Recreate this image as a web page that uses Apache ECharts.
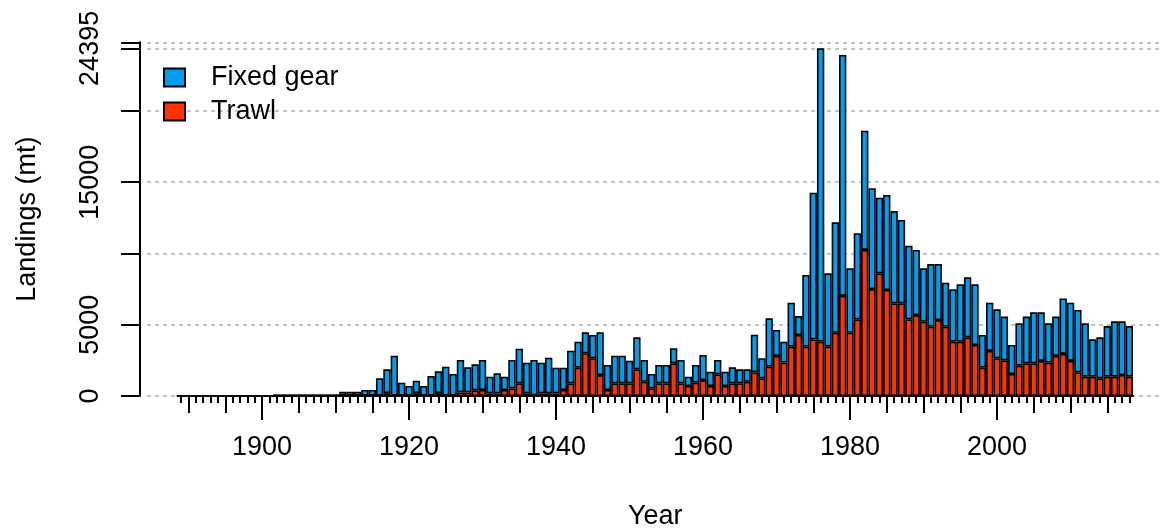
<!DOCTYPE html>
<html>
<head>
<meta charset="utf-8">
<script src="https://cdn.jsdelivr.net/npm/echarts@6/dist/echarts.min.js"></script>
<style>
  html, body { margin: 0; padding: 0; background: #fff; }
  #chartLandings { width: 1164px; height: 531px; }
</style>
</head>
<body>
<div id="chartLandings"></div>
<script>
  /** Data */
  var years = [];
  for (var y = 1889; y <= 2018; y++) { years.push(String(y)); }

  var trawl = [
    0, 0, 0, 0, 0, 0, 0, 0, 0, 0, 0, 0, 0,
    0, 0, 0, 0, 0, 0, 0, 0, 0,
    20, 20, 20, 20, 20, 30, 200, 30, 30, 30,
    200, 30, 30, 200, 30, 30, 250, 250, 400, 420,
    190, 190, 420, 540, 890, 190, 50, 190, 190, 190,
    420, 890, 1990, 3000, 2650, 1470, 420, 890, 890, 890,
    1870, 1000, 540, 890, 890, 2290, 890, 700, 935, 1120,
    700, 1520, 700, 890, 890, 1000, 1670, 1240, 2060, 2810,
    2340, 3460, 4280, 3460, 3980, 3810, 3460, 4440, 7020, 4440,
    5380, 10250, 7500, 8610, 7440, 6500, 6500, 5380, 5680, 5210,
    4860, 5330, 4860, 3810, 3810, 4120, 3580, 1990, 3160, 2650,
    2500, 1545, 2130, 2290, 2290, 2460, 2340, 2810, 2950, 2460,
    1660, 1355, 1355, 1240, 1355, 1355, 1475, 1355
  ];

  var fixedGear = [
    0, 0, 0, 0, 0, 0, 0, 0, 0, 0, 0, 0, 0,
    120, 120, 120, 120, 120, 120, 120, 120, 120,
    280, 280, 280, 400, 400, 1210, 1670, 2800, 905, 670,
    875, 670, 1370, 1530, 2030, 1515, 2280, 1760, 1820, 2110,
    1165, 1400, 935, 1990, 2430, 2150, 2480, 2150, 2500, 1800,
    1570, 2290, 1820, 1470, 1630, 3000, 1760, 1940, 1940, 1590,
    2250, 1530, 1005, 1290, 1290, 1060, 1640, 655, 1245, 1760,
    1005, 1010, 1005, 1120, 980, 870, 2630, 1410, 3390, 1820,
    1470, 3090, 1330, 5030, 10290, 20585, 5150, 7750, 16910, 4520,
    6040, 8370, 7080, 5310, 6670, 6480, 5850, 5170, 4570, 3750,
    4400, 3930, 3090, 3680, 4030, 4210, 4260, 2290, 3390, 3430,
    3070, 2035, 2970, 3280, 3580, 3410, 2760, 2760, 3900, 4090,
    4380, 3745, 2625, 2880, 3555, 3885, 3765, 3555
  ];

  var yMax = 24820;
  var yTop = 24395;
  var yLabels = ['0', '5000', '15000'];

  /** Chart */
  var font = "'Liberation Sans', Arial, sans-serif";
  var ink = '#000';
  var gridLine = { show: true, lineStyle: { color: '#c4c4c4', width: 2, type: [4, 4] } };

  function tickAxis(every, len, showLabel) {
    return {
      type: 'category',
      gridIndex: 0,
      position: 'bottom',
      data: years,
      boundaryGap: true,
      axisLine: { show: every === 1, lineStyle: { color: ink, width: 2 } },
      axisTick: {
        show: true,
        alignWithLabel: true,
        length: len,
        lineStyle: { color: ink, width: 2 },
        interval: function(i, v) { return Number(v) % every === 0; }
      },
      axisLabel: {
        show: showLabel,
        interval: function(i, v) { return Number(v) % 20 === 0; },
        margin: 38,
        color: ink,
        fontSize: 27,
        fontFamily: font
      },
      splitLine: { show: false }
    };
  }

  var option = {
    animation: false,
    backgroundColor: '#fff',
    textStyle: { fontFamily: font },
    grid: [
      { left: 177.5, right: 31, top: 42.3, bottom: 135, containLabel: false, outerBoundsMode: 'none' },
      { left: 147, right: 4, top: 42.3, bottom: 135, containLabel: false, outerBoundsMode: 'none' }
    ],
    legend: {
      orient: 'vertical',
      left: 158,
      top: 59,
      icon: 'rect',
      itemWidth: 21,
      itemHeight: 18,
      itemGap: 7,
      data: ['Fixed gear', 'Trawl'],
      textStyle: { color: ink, fontSize: 27, fontFamily: font, padding: [2, 0, 0, 21] }
    },
    xAxis: [
      tickAxis(1, 7, false),
      tickAxis(5, 17, false),
      (function() {
        var a = tickAxis(20, 24, true);
        a.name = 'Year';
        a.nameLocation = 'middle';
        a.nameGap = 107;
        a.nameTextStyle = { color: ink, fontSize: 27, fontFamily: font };
        return a;
      })(),
      { type: 'value', gridIndex: 1, min: 0, max: 1, show: false }
    ],
    yAxis: [
      {
        type: 'value',
        gridIndex: 0,
        position: 'left',
        offset: 37.5,
        min: 0,
        max: yMax,
        interval: 5000,
        name: 'Landings (mt)',
        nameLocation: 'middle',
        nameGap: 99,
        nameTextStyle: { color: ink, fontSize: 27, fontFamily: font },
        axisLine: { show: true, lineStyle: { color: ink, width: 2 } },
        axisTick: { show: true, length: 19, lineStyle: { color: ink, width: 2 } },
        axisLabel: {
          rotate: 90,
          margin: 36,
          color: ink,
          fontSize: 27,
          fontFamily: font,
          showMaxLabel: false,
          formatter: function(v) { return yLabels.indexOf(String(v)) >= 0 ? String(v) : ''; }
        },
        splitLine: { show: false }
      },
      {
        type: 'value',
        gridIndex: 0,
        position: 'left',
        offset: 37.5,
        min: 0,
        max: yMax,
        interval: yTop,
        axisLine: { show: false },
        axisTick: { show: true, length: 19, lineStyle: { color: ink, width: 2 } },
        axisLabel: {
          rotate: 90,
          margin: 36,
          color: ink,
          fontSize: 27,
          fontFamily: font,
          formatter: function(v) { return v === yTop ? String(yTop) : ''; }
        },
        splitLine: { show: false }
      },
      {
        type: 'value',
        gridIndex: 1,
        min: 0,
        max: yMax,
        interval: 5000,
        axisLine: { show: false },
        axisTick: { show: false },
        axisLabel: { show: false },
        splitLine: gridLine
      },
      {
        type: 'value',
        gridIndex: 1,
        min: 0,
        max: yMax,
        interval: yTop,
        axisLine: { show: false },
        axisTick: { show: false },
        axisLabel: { show: false },
        splitLine: gridLine
      }
    ],
    series: [
      {
        name: 'Trawl',
        type: 'bar',
        stack: 'landings',
        xAxisIndex: 0,
        yAxisIndex: 0,
        barWidth: '100%',
        barCategoryGap: 0,
        data: trawl,
        itemStyle: { color: '#ff3300', borderColor: '#000', borderWidth: 1.6 }
      },
      {
        name: 'Fixed gear',
        type: 'bar',
        stack: 'landings',
        xAxisIndex: 0,
        yAxisIndex: 0,
        barWidth: '100%',
        barCategoryGap: 0,
        data: fixedGear,
        itemStyle: { color: '#009df0', borderColor: '#000', borderWidth: 1.6 }
      }
    ]
  };

  echarts.init(document.getElementById('chartLandings')).setOption(option);
</script>
</body>
</html>
